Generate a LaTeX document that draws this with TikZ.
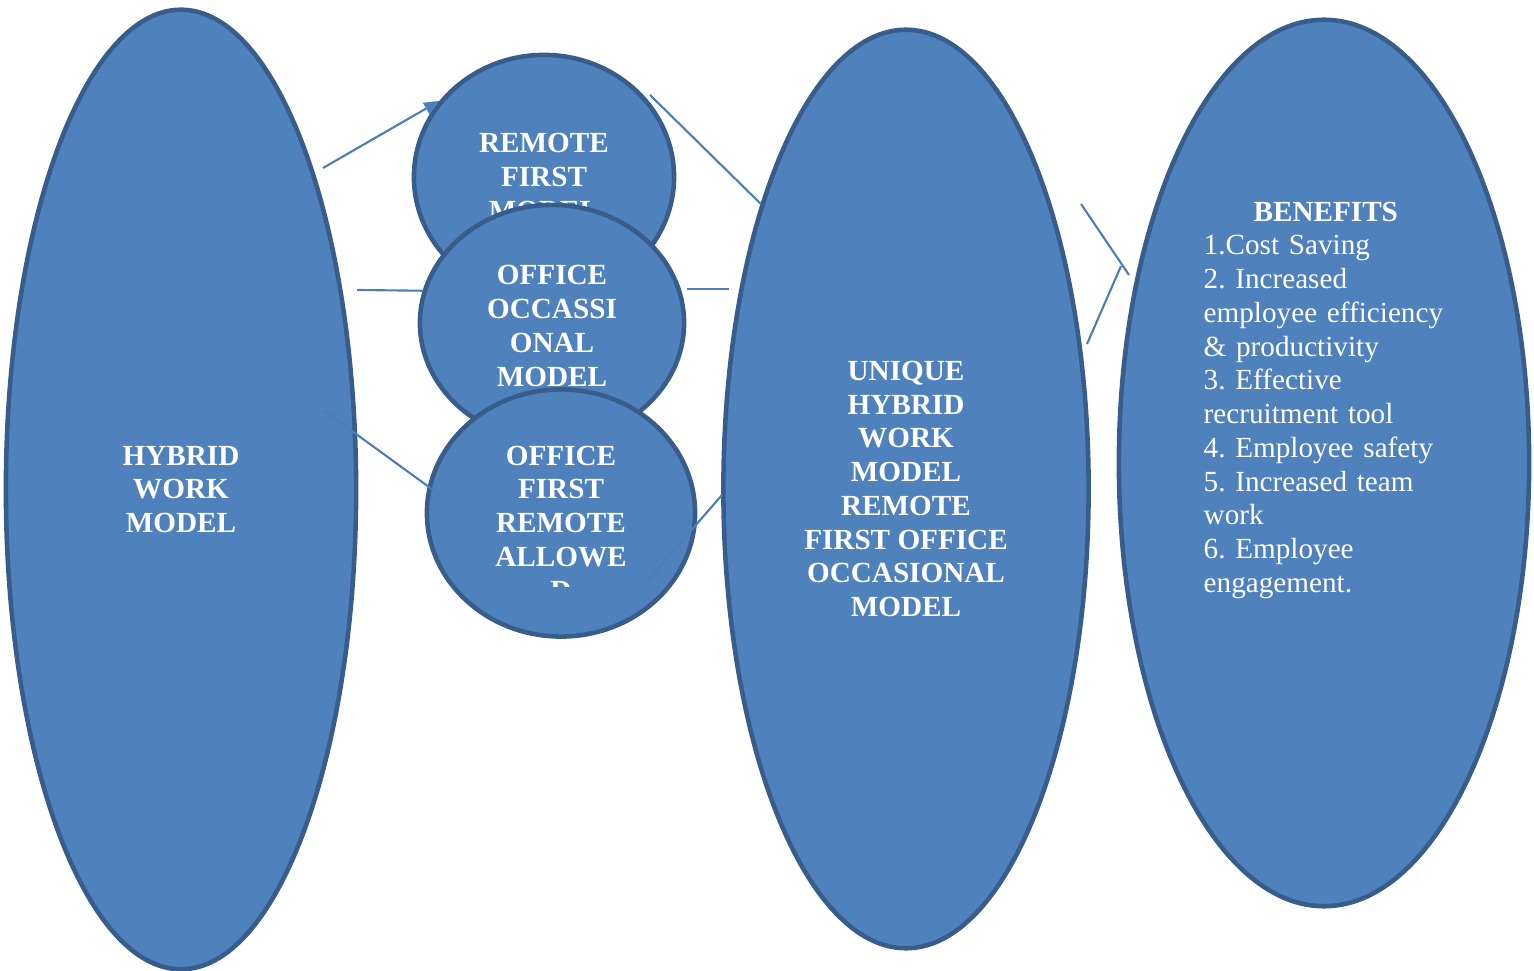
\documentclass[tikz,border=0pt]{standalone}
\usepackage{fontspec}
\setmainfont{Liberation Serif}
\usepackage{tikz}
\usetikzlibrary{arrows.meta}
\usetikzlibrary{shapes.geometric}
\frenchspacing

\definecolor{modelfill}{HTML}{4F81BD}
\definecolor{modelline}{HTML}{385D8A}
\definecolor{linkline}{HTML}{4A7EBB}

\tikzset{
    model/.style = {ellipse, fill=modelfill, draw=modelline, line width=1.3pt, inner sep=0pt,
        text=white, align=center, font=\fontsize{8.3}{9.6}\selectfont\bfseries},
    link/.style = {draw=linkline, line width=0.6pt}
}

\begin{document}
\begin{tikzpicture} [x = 0.01cm, y = -0.01cm]

    \useasboundingbox (0,0) rectangle (1534,971);

    \node [model, minimum width = 3.5cm, minimum height = 9.59cm] (hybrid) at (181,489.5) {HYBRID\\WORK\\MODEL};
    \node [model, minimum width = 2.6cm, minimum height = 2.44cm] (remote) at (544,177) {REMOTE\\FIRST\\MODEL};
    \node [model, minimum width = 2.64cm, minimum height = 2.36cm] (occas) at (552,323) {};
    \node [model, draw=none, fill=none] (occastext) at (552,326) {OFFICE\\OCCASSI\\ONAL\\MODEL};
    \node [model, minimum width = 2.68cm, minimum height = 2.47cm] (office) at (561,513) {};
    \begin{scope}
        \clip (420,380) rectangle (700,587);
        \node [model, draw=none, fill=none] (officetext) at (561,523) {OFFICE\\FIRST\\REMOTE\\ALLOWE\\D};
    \end{scope}
    \node [model, minimum width = 3.65cm, minimum height = 9.18cm] (unique) at (906,489)
        {UNIQUE\\HYBRID\\WORK\\MODEL\\REMOTE\\FIRST OFFICE\\OCCASIONAL\\MODEL};
    \node [model, minimum width = 4.1cm, minimum height = 8.86cm] (benefits) at (1324,463) {};
    \node [anchor = north west, inner sep = 0pt, text width = 2.44cm, align = left, text = white,
        font = \fontsize{8.3}{9.6}\selectfont] (benefitlist) at (1203,201)
        {\makebox[\linewidth][c]{\bfseries BENEFITS}\\
        1.Cost Saving\\
        2. Increased\\
        employee efficiency\\
        \& productivity\\
        3. Effective\\
        recruitment tool\\
        4. Employee safety\\
        5. Increased team\\
        work\\
        6. Employee\\
        engagement.};

    %free ends of the connectors
    \coordinate (h1) at (323,168);
    \coordinate (h2) at (357,290);
    \coordinate (h3) at (323,410);
    \coordinate (c3) at (440,495);
    \coordinate (r1) at (650,95);
    \coordinate (o1) at (687,289);
    \coordinate (u2) at (729,289);
    \coordinate (u3) at (722,495);
    \coordinate (o3) at (648,580);
    \coordinate (v1) at (1081,204);
    \coordinate (v2) at (1129,275);
    \coordinate (v3) at (1121,266);
    \coordinate (v4) at (1087,344);

    \draw [link, -{Triangle[length=4.3pt, width=3.6pt]}] (h1) -- (remote.144);
    \draw [link] (h2) -- (occas.166);
    \draw [link] (h3) -- (c3);
    \draw [link] (r1) -- (unique.117);
    \draw [link] (o1) -- (u2);
    \draw [link] (u3) -- (o3);
    \draw [link] (v1) -- (v2);
    \draw [link] (v3) -- (v4);

\end{tikzpicture}
\end{document}
